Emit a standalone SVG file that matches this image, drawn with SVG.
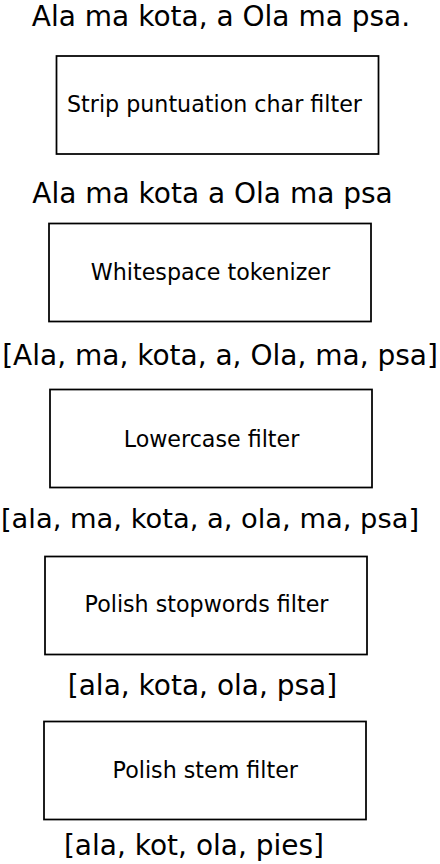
<svg xmlns="http://www.w3.org/2000/svg" width="440" height="864" viewBox="0 0 440 864">
<style>
.box{fill:#fff;stroke:#000;stroke-width:1.75}
.lbl{font-family:"DejaVu Sans",sans-serif;font-size:22.2px;fill:#000;text-anchor:middle}
.tok{font-family:"DejaVu Sans",sans-serif;font-size:28px;fill:#000;text-anchor:middle}
</style>
<rect width="440" height="864" fill="#fff"/>
<g id="texts">
<text class="tok" x="221" y="26">Ala ma kota, a Ola ma psa.</text>
<text class="tok" x="212.5" y="203">Ala ma kota a Ola ma psa</text>
<text class="tok" x="220" y="365">[Ala, ma, kota, a, Ola, ma, psa]</text>
<text class="tok" x="210" y="528" style="font-size:27.3px">[ala, ma, kota, a, ola, ma, psa]</text>
<text class="tok" x="202.5" y="695">[ala, kota, ola, psa]</text>
<text class="tok" x="194" y="855">[ala, kot, ola, pies]</text>
</g>
<g id="n1"><rect class="box" x="56.5" y="56" width="322" height="98"/><text class="lbl" x="214.5" y="112">Strip puntuation char filter</text></g>
<g id="n2"><rect class="box" x="49" y="223.5" width="322" height="98"/><text class="lbl" x="210.5" y="280">Whitespace tokenizer</text></g>
<g id="n3"><rect class="box" x="50" y="389.5" width="322" height="98"/><text class="lbl" x="211.5" y="446.5">Lowercase filter</text></g>
<g id="n4"><rect class="box" x="45" y="556.5" width="322" height="98"/><text class="lbl" x="206.5" y="611.5">Polish stopwords filter</text></g>
<g id="n5"><rect class="box" x="44" y="721.5" width="322" height="98"/><text class="lbl" x="205.3" y="778">Polish stem filter</text></g>
<g id="connectors"></g>
</svg>
